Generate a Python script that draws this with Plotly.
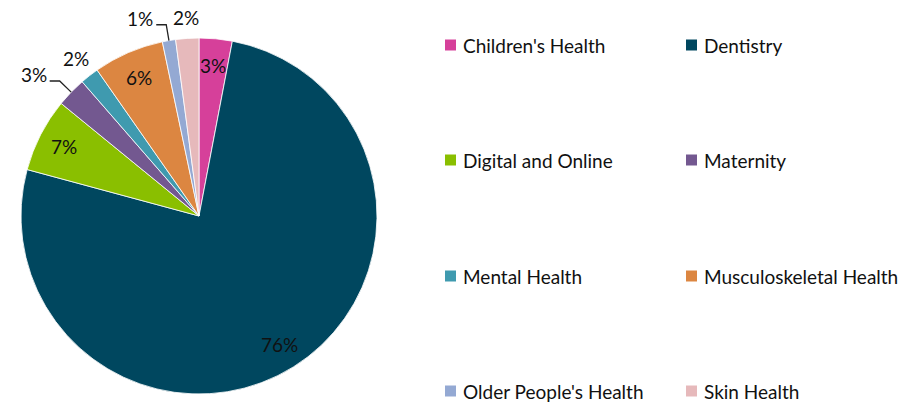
import math
import plotly.graph_objects as go

# Share of items by topic
categories = [
    "Children's Health", "Dentistry", "Digital and Online", "Maternity",
    "Mental Health", "Musculoskeletal Health", "Older People's Health", "Skin Health",
]
shares = [3.0, 76.2, 6.7, 2.7, 1.7, 6.4, 1.2, 2.1]
colors = ["#D6409A", "#00475F", "#8ABF00", "#735890", "#3F9AAF", "#DC8641", "#94A9D3", "#E6B9BB"]
# where each percentage label goes: inside the slice, just outside it, or pulled out with a leader line
label_modes = ["inside", "inside", "inside", "callout", "outside", "inside", "callout", "outside"]

W, H = 924, 403
FONT = "Lato"
TEXT_COLOR = "#111111"

# pie placement in pixels
CX, CY, R = 199, 216, 178


def px_x(x):
    return x / W


def px_y(y):
    return 1 - y / H


fig = go.Figure(
    go.Pie(
        labels=categories,
        values=shares,
        sort=False,
        direction="clockwise",
        rotation=0,
        marker=dict(colors=colors, line=dict(color="white", width=0.8)),
        textinfo="none",
        automargin=False,
        showlegend=False,
        domain=dict(x=[px_x(CX - R), px_x(CX + R)], y=[px_y(CY + R), px_y(CY - R)]),
        hoverinfo="label+percent",
    )
)

# Percentage labels placed at each slice's mid-angle
total = sum(shares)
cum = 0.0
for val, mode in zip(shares, label_modes):
    frac = val / total
    mid = (cum + frac / 2) * 2 * math.pi  # clockwise from 12 o'clock
    cum += frac
    sx, sy = math.sin(mid), -math.cos(mid)
    text = f"{round(frac * 100)}%"
    font = dict(family=FONT, size=19, color=TEXT_COLOR)
    if mode == "inside":
        r = 0.85 * R
        fig.add_annotation(x=px_x(CX + r * sx), y=px_y(CY + r * sy), xref="paper", yref="paper",
                           text=text, showarrow=False, xanchor="center", yanchor="middle", font=font)
    elif mode == "outside":
        r = 1.12 * R
        fig.add_annotation(x=px_x(CX + r * sx), y=px_y(CY + r * sy), xref="paper", yref="paper",
                           text=text, showarrow=False, xanchor="center", yanchor="middle", font=font)
    else:
        ex, ey = CX + R * sx, CY + R * sy
        r_elbow = 1.09 * R
        bx, by = CX + r_elbow * sx, CY + r_elbow * sy
        hx = bx - 10
        fig.add_shape(type="path", xref="paper", yref="paper",
                      path=f"M {px_x(ex)} {px_y(ey)} L {px_x(bx)} {px_y(by)} L {px_x(hx)} {px_y(by)}",
                      line=dict(color="#222222", width=1.3))
        fig.add_annotation(x=px_x(hx - 1), y=px_y(by - 6), xref="paper", yref="paper",
                           text=text, showarrow=False, xanchor="right", yanchor="middle", font=font)

# Two-column legend with wide row spacing
col_x = [445, 686]
row_y = [45, 160, 276, 391]
sq = 11
for i, (name, col) in enumerate(zip(categories, colors)):
    x0 = col_x[i % 2]
    yc = row_y[i // 2]
    fig.add_shape(
        type="rect", xref="paper", yref="paper",
        x0=px_x(x0), x1=px_x(x0 + sq),
        y0=px_y(yc + sq / 2), y1=px_y(yc - sq / 2),
        fillcolor=col, line=dict(width=0),
    )
    fig.add_annotation(
        x=px_x(x0 + sq + 5), y=px_y(yc), xref="paper", yref="paper",
        text=name, showarrow=False, xanchor="left", yanchor="middle",
        font=dict(family=FONT, size=19, color=TEXT_COLOR),
    )

fig.update_layout(
    width=W, height=H,
    margin=dict(l=0, r=0, t=0, b=0),
    paper_bgcolor="white", plot_bgcolor="white",
)

fig.write_html("out.html")
